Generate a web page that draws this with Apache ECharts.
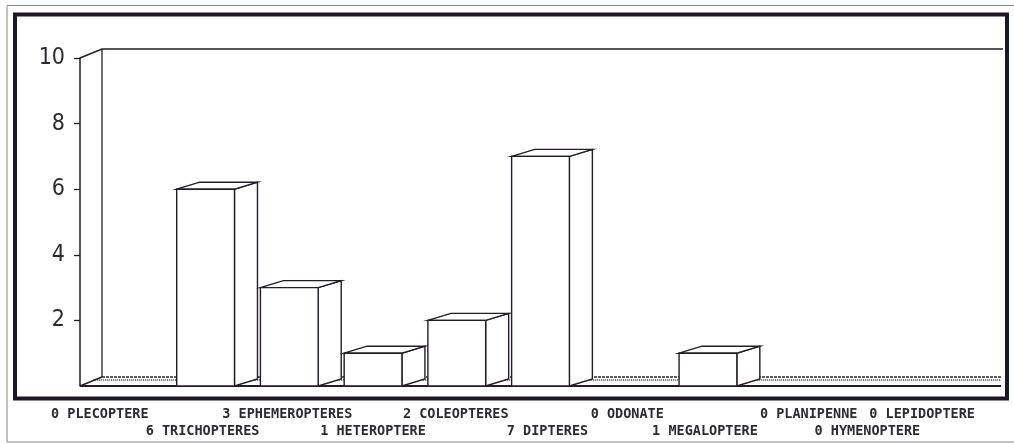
<!DOCTYPE html>
<html>
<head>
<meta charset="utf-8">
<script src="https://cdn.jsdelivr.net/npm/echarts@6/dist/echarts.min.js"></script>
<style>
  html, body { margin: 0; padding: 0; background: #fff; }
  #chart { width: 1014px; height: 443px; }
</style>
</head>
<body>
<div id="chart"></div>
<script>
// Insect orders counted in the sample
const categories = ['PLECOPTERE', 'TRICHOPTERES', 'EPHEMEROPTERES', 'HETEROPTERE', 'COLEOPTERES',
  'DIPTERES', 'ODONATE', 'MEGALOPTERE', 'PLANIPENNE', 'HYMENOPTERE', 'LEPIDOPTERE'];
const counts = [0, 6, 3, 1, 2, 7, 0, 1, 0, 0, 0];
const yTicks = [2, 4, 6, 8, 10];
const yMax = 10;

// ---- layout / styling ----
const INK = '#241c28';
const BAR_FRAC = 0.69;          // front face width as share of a category band
const BAR_DX = 23, BAR_DY = -7; // bar depth offset
const WALL_DX = 22, WALL_DY = -9;
const labelShift = [-22, -3, -2, 0, -1, 7, 3, -3, 17, -8, -37]; // horizontal nudges of category labels
const ROW_GAP = 17;
const labelFont = "'DejaVu Sans Mono', 'Liberation Mono', monospace";

const rich = {};
categories.forEach((c, i) => {
  const s = labelShift[i];
  rich['r' + i] = {
    fontFamily: labelFont, fontSize: 13.5, fontWeight: 'bold', color: '#2e2a33', lineHeight: 16,
    padding: [i % 2 ? 2 * ROW_GAP : 0, s < 0 ? -2 * s : 0, 0, s > 0 ? 2 * s : 0]
  };
});

const lineStyle = { fill: '#fff', stroke: INK, lineWidth: 1.4 };

function renderFloor(params, api) {
  const cs = params.coordSys;
  const x0 = cs.x, xR = cs.x + cs.width;
  const y0 = api.coord([0, 0])[1];
  const yT = api.coord([0, yMax])[1];
  return {
    type: 'group',
    children: [
      // back wall
      { type: 'polyline', shape: { points: [[x0, yT], [x0 + WALL_DX, yT + WALL_DY], [xR + 2, yT + WALL_DY]] },
        style: { fill: null, stroke: INK, lineWidth: 1.5 } },
      { type: 'line', shape: { x1: x0 + WALL_DX, y1: yT + WALL_DY, x2: x0 + WALL_DX, y2: y0 + WALL_DY },
        style: { stroke: INK, lineWidth: 1.3 } },
      // floor slab
      { type: 'polygon', shape: { points: [[x0, y0], [x0 + WALL_DX, y0 + WALL_DY], [xR, y0 + WALL_DY], [xR, y0]] },
        style: { fill: '#fff', stroke: null } },
      { type: 'line', shape: { x1: x0 + WALL_DX, y1: y0 + WALL_DY, x2: xR, y2: y0 + WALL_DY },
        style: { stroke: '#2e2634', lineWidth: 1.7, lineDash: [3, 1] } },
      { type: 'line', shape: { x1: x0 + WALL_DX * 0.6, y1: y0 + WALL_DY + 3, x2: xR, y2: y0 + WALL_DY + 3 },
        style: { stroke: '#4a4050', lineWidth: 1.6, lineDash: [1, 1] } },
      { type: 'line', shape: { x1: x0, y1: y0, x2: x0 + WALL_DX, y2: y0 + WALL_DY },
        style: { stroke: INK, lineWidth: 1.4 } },
      { type: 'line', shape: { x1: x0, y1: y0, x2: xR, y2: y0 },
        style: { stroke: INK, lineWidth: 2.2 } }
    ]
  };
}

function renderBar(params, api) {
  const i = api.value(0), v = api.value(1);
  if (!v) return null;
  const top = api.coord([i, v]);
  const base = api.coord([i, 0]);
  const w = api.size([1, 0])[0] * BAR_FRAC;
  const l = top[0] - w / 2, r = top[0] + w / 2, yt = top[1], yb = base[1];
  return {
    type: 'group',
    children: [
      { type: 'polygon', shape: { points: [[r, yt], [r + BAR_DX, yt + BAR_DY], [r + BAR_DX, yb + BAR_DY], [r, yb]] }, style: lineStyle },
      { type: 'polygon', shape: { points: [[l, yt], [l + BAR_DX, yt + BAR_DY], [r + BAR_DX, yt + BAR_DY], [r, yt]] }, style: lineStyle },
      { type: 'rect', shape: { x: l, y: yt, width: w, height: yb - yt }, style: lineStyle }
    ]
  };
}

const chart = echarts.init(document.getElementById('chart'), null, { renderer: 'canvas' });
chart.setOption({
  animation: false,
  backgroundColor: '#fff',
  grid: { left: 80, right: 13, top: 58, bottom: 57, outerBoundsMode: 'none', containLabel: false },
  xAxis: {
    type: 'category',
    data: categories,
    axisLine: { show: false },
    axisTick: { show: false },
    splitLine: { show: false },
    axisLabel: {
      interval: 0,
      margin: 20,
      hideOverlap: false,
      formatter: (val, idx) => `{r${idx}|${counts[idx]} ${val}}`,
      rich: rich
    }
  },
  yAxis: {
    type: 'value',
    min: 0,
    max: yMax,
    interval: 2,
    splitLine: { show: false },
    axisLine: { show: true, lineStyle: { color: INK, width: 1.5 } },
    axisTick: { show: true, length: 6, customValues: yTicks, lineStyle: { color: INK, width: 1.3 } },
    axisLabel: {
      customValues: yTicks,
      margin: 15,
      fontFamily: "'Liberation Sans Narrow', 'DejaVu Sans Condensed', sans-serif",
      fontSize: 23,
      color: '#2e2a33'
    }
  },
  graphic: [
    { type: 'rect', z: 100, shape: { x: 7, y: 5.5, width: 1030, height: 436.5 },
      style: { fill: null, stroke: '#8a8490', lineWidth: 1 } },
    { type: 'rect', z: 100, shape: { x: 15, y: 14.5, width: 992, height: 384 },
      style: { fill: null, stroke: '#1e1620', lineWidth: 4 } }
  ],
  series: [
    { type: 'custom', renderItem: renderFloor, data: [[0, 0]], silent: true, z: 1 },
    { type: 'custom', renderItem: renderBar, data: counts.map((v, i) => [i, v]), z: 2 }
  ]
});
</script>
</body>
</html>
